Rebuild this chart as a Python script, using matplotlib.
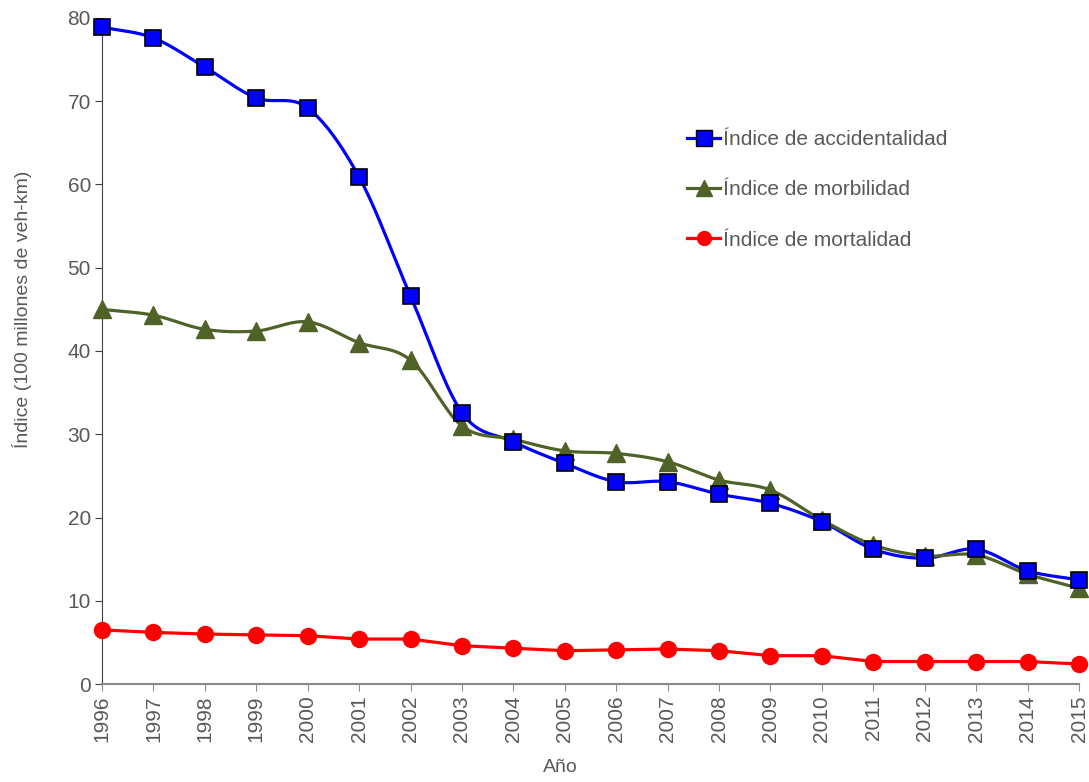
import numpy as np
import matplotlib
matplotlib.use("Agg")
import matplotlib.pyplot as plt
from matplotlib import font_manager

years = list(range(1996, 2016))
accidentalidad = [78.9, 77.6, 74.1, 70.4, 69.2, 60.9, 46.6, 32.6, 29.1, 26.5,
                  24.3, 24.3, 22.8, 21.7, 19.5, 16.2, 15.1, 16.2, 13.6, 12.5]
morbilidad = [45.0, 44.3, 42.6, 42.4, 43.5, 41.0, 38.9, 31.0, 29.4, 28.0,
              27.7, 26.7, 24.5, 23.3, 19.7, 16.7, 15.4, 15.5, 13.2, 11.5]
mortalidad = [6.5, 6.2, 6.0, 5.9, 5.8, 5.4, 5.4, 4.6, 4.3, 4.0,
              4.1, 4.2, 4.0, 3.4, 3.4, 2.7, 2.7, 2.7, 2.7, 2.4]

names = {f.name for f in font_manager.fontManager.ttflist}
fam = "Liberation Sans Narrow" if "Liberation Sans Narrow" in names else "Liberation Sans"
plt.rcParams['font.family'] = [fam, 'DejaVu Sans']

gray = '#595959'


def smooth(x, y, n=20):
    # catmull-rom curve through the points, like excel's smoothed line
    x = np.asarray(x, float)
    y = np.asarray(y, float)
    px = np.concatenate([[2 * x[0] - x[1]], x, [2 * x[-1] - x[-2]]])
    py = np.concatenate([[2 * y[0] - y[1]], y, [2 * y[-1] - y[-2]]])
    xs, ys = [], []
    t = np.linspace(0, 1, n, endpoint=False)
    for i in range(1, len(px) - 2):
        for p, out in ((px, xs), (py, ys)):
            p0, p1, p2, p3 = p[i - 1], p[i], p[i + 1], p[i + 2]
            out.extend(0.5 * ((2 * p1) + (-p0 + p2) * t
                              + (2 * p0 - 5 * p1 + 4 * p2 - p3) * t ** 2
                              + (-p0 + 3 * p1 - 3 * p2 + p3) * t ** 3))
    xs.append(x[-1])
    ys.append(y[-1])
    return np.array(xs), np.array(ys)


fig = plt.figure(figsize=(10.89, 7.82), dpi=100)
ax = fig.add_axes([102 / 1089, 1 - 684 / 782, (1079 - 102) / 1089, (684 - 18) / 782])

blue = '#0000FF'
green = '#4F6228'
red = '#FF0000'

sx, sy = smooth(years, accidentalidad)
ax.plot(sx, sy, color=blue, lw=2.3, clip_on=False, zorder=3)
ax.plot(years, accidentalidad, ls='none', marker='s', ms=12, mfc=blue, mec='black',
        mew=1.2, clip_on=False, zorder=5)

sx, sy = smooth(years, morbilidad)
ax.plot(sx, sy, color=green, lw=2.3, clip_on=False, zorder=3)
ax.plot(years, morbilidad, ls='none', marker='^', ms=12.5, mfc=green, mec=green,
        clip_on=False, zorder=4)

ax.plot(years, mortalidad, color=red, lw=2.3, marker='o', ms=11.5, mfc=red, mec=red,
        clip_on=False, zorder=4)

# legend handles
h1, = ax.plot([], [], color=blue, lw=2.3, marker='s', ms=11, mfc=blue, mec='black', mew=1.0)
h2, = ax.plot([], [], color=green, lw=2.3, marker='^', ms=11, mfc=green, mec=green)
h3, = ax.plot([], [], color=red, lw=2.3, marker='o', ms=10, mfc=red, mec=red)
leg = fig.legend([h1, h2, h3],
                 ['Índice de accidentalidad', 'Índice de morbilidad', 'Índice de mortalidad'],
                 loc='upper left', bbox_to_anchor=(687 / 1089, 1 - 130 / 782),
                 frameon=False, fontsize=15, handlelength=1.6, handletextpad=0.15,
                 labelspacing=1.5, borderpad=0, borderaxespad=0)
for t in leg.get_texts():
    t.set_color(gray)

ax.set_xlim(1996, 2015)
ax.set_ylim(0, 80)
ax.set_xticks(years)
ax.set_xticklabels([str(y) for y in years], rotation=90)
ax.set_yticks(range(0, 81, 10))

for s in ['top', 'right']:
    ax.spines[s].set_visible(False)
ax.spines['left'].set_color('#404040')
ax.spines['bottom'].set_color('#898989')
ax.spines['bottom'].set_linewidth(1.5)
ax.tick_params(axis='y', direction='out', length=5, color='#404040', labelsize=15,
               labelcolor=gray, pad=3)
ax.tick_params(axis='x', direction='out', length=5, color='#898989', labelsize=15,
               labelcolor=gray, pad=3)

ax.set_ylabel('Índice (100 millones de veh-km)', fontsize=14, color=gray)
ax.yaxis.set_label_coords(-0.072, 0.563)
ax.set_xlabel('Año', fontsize=14, color=gray)
ax.xaxis.set_label_coords(0.469, -0.112)

fig.savefig('out.png', dpi=100)
